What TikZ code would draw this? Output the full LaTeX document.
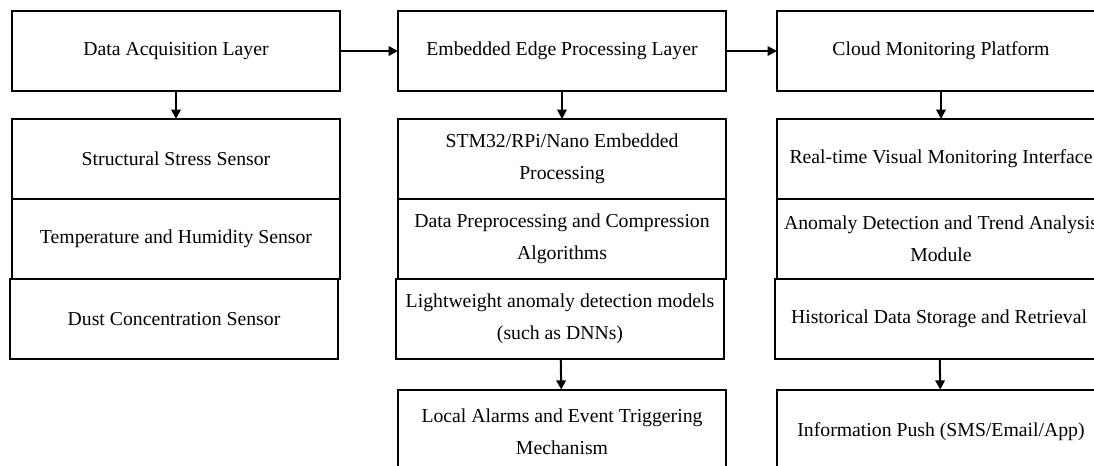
\documentclass[tikz,border=0pt]{standalone}
\usepackage{fontspec}
\setmainfont{Liberation Serif}
\usetikzlibrary{positioning,arrows.meta}

\begin{document}
\begin{tikzpicture}[
	box/.style={draw, minimum width=246pt, minimum height=60pt, align=center, inner sep=2pt, outer sep=0pt, font=\fontsize{14.8pt}{24pt}\selectfont},
	>={Triangle[length=7pt,width=7pt]}, line width=1.5pt]
	\useasboundingbox (0,0) rectangle (820.5pt,-348.75pt);
	\clip (0,0) rectangle (820.5pt,-348.75pt);

	% layers
	\node[box] (acq) at (132pt,-38.25pt) {Data Acquisition Layer};
	\node[box, right=43.5pt of acq] (edge) {Embedded Edge Processing Layer};
	\node[box, right=38.25pt of edge] (cloud) {Cloud Monitoring Platform};

	% data acquisition
	\node[box, below=21pt of acq] (s1) {Structural Stress Sensor};
	\node[box, below=0pt of s1] (s2) {Temperature and Humidity Sensor};
	\node[box, below=0pt of s2, xshift=-1.5pt] (s3) {Dust Concentration Sensor};

	% edge processing
	\node[box, below=21pt of edge] (e1) {STM32/RPi/Nano Embedded\\Processing};
	\node[box, below=0pt of e1] (e2) {Data Preprocessing and Compression\\Algorithms};
	\node[box, below=0pt of e2, xshift=-1.5pt] (e3) {Lightweight anomaly detection models\\(such as DNNs)};
	\node[box, below=23pt of e3, xshift=1.5pt, minimum height=63pt] (e4) {Local Alarms and Event Triggering\\Mechanism};

	% cloud platform
	\node[box, below=21pt of cloud] (c1) {Real-time Visual Monitoring Interface};
	\node[box, below=0pt of c1] (c2) {Anomaly Detection and Trend Analysis\\Module};
	\node[box, below=0pt of c2, xshift=-1.5pt] (c3) {Historical Data Storage and Retrieval};
	\node[box, below=23pt of c3, xshift=1.5pt, minimum height=63pt] (c4) {Information Push (SMS/Email/App)};

	\draw[->] (acq) -- (edge);
	\draw[->] (edge) -- (cloud);

	\draw[->] (acq) -- (s1);
	\draw[->] (edge) -- (e1);
	\draw[->] (cloud) -- (c1);
	\draw[->] (e3) -- (e4);
	\draw[->] (c3) -- (c4);

\end{tikzpicture}
\end{document}
